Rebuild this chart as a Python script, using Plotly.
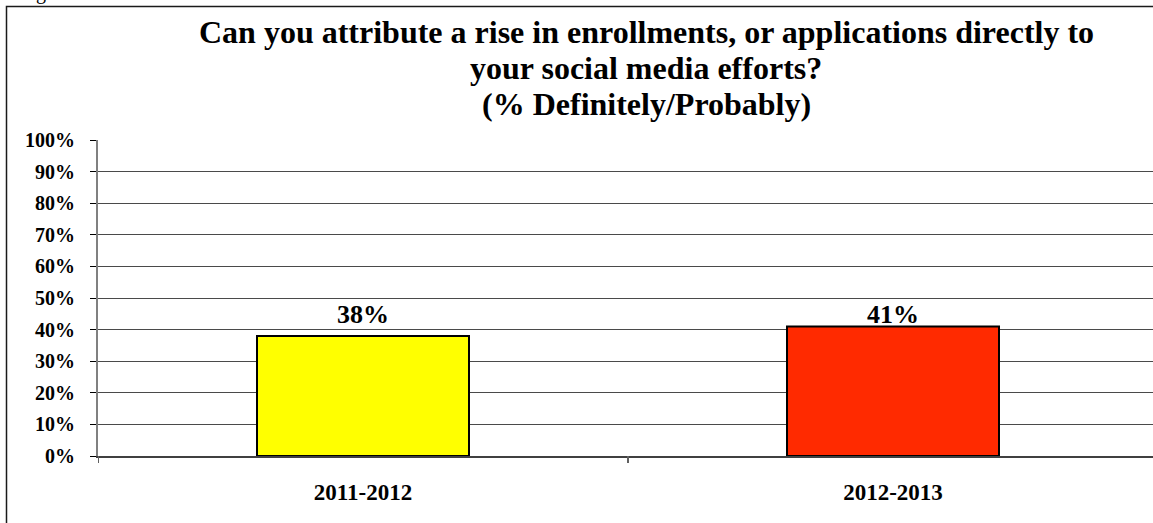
import plotly.graph_objects as go

# Survey results: share answering "Definitely" or "Probably"
periods = ["2011-2012", "2012-2013"]
shares = [0.38, 0.41]
bar_colors = ["#FFFF00", "#FF2A00"]
y_ticks = [0.0, 0.1, 0.2, 0.3, 0.4, 0.5, 0.6, 0.7, 0.8, 0.9, 1.0]
y_tick_text = [f"{round(v * 100)}%" for v in y_ticks]
title_lines = [
    "Can you attribute a rise in enrollments, or applications directly to",
    "your social media efforts?",
    "(% Definitely/Probably)",
]

W, H = 1153, 523
M_L, M_R, M_T, M_B = 98, 0, 140, 67
PLOT_W = W - M_L - M_R
PLOT_H = H - M_T - M_B
CAT_PX = 530  # width of one category slot in pixels

FONT = "Liberation Serif, Times New Roman, DejaVu Serif, serif"


def px_to_paper_x(px):
    return (px - M_L) / PLOT_W


def px_to_paper_y(py):
    return (H - M_B - py) / PLOT_H


x_pos = list(range(len(periods)))
x_range = [-0.5, -0.5 + PLOT_W / CAT_PX]

fig = go.Figure()
fig.add_trace(
    go.Bar(
        x=x_pos,
        y=shares,
        width=0.4,
        marker=dict(color=bar_colors, line=dict(color="#000000", width=2)),
        hoverinfo="skip",
        showlegend=False,
    )
)

annotations = []
# value labels, all set on a common line above the bars
for xi, v in zip(x_pos, shares):
    annotations.append(
        dict(
            x=xi,
            y=px_to_paper_y(323 - 0.337 * 26),
            xref="x",
            yref="paper",
            text=f"<b>{round(v * 100)}%</b>",
            showarrow=False,
            xanchor="center",
            yanchor="middle",
            font=dict(family=FONT, size=26, color="#000000"),
        )
    )

# three-line heading
for i, line in enumerate(title_lines):
    baseline = 43 + 36 * i
    annotations.append(
        dict(
            x=px_to_paper_x(646),
            y=px_to_paper_y(baseline - 0.337 * 32),
            xref="paper",
            yref="paper",
            text=f"<b>{line}</b>",
            showarrow=False,
            xanchor="center",
            yanchor="middle",
            font=dict(family=FONT, size=32, color="#000000"),
        )
    )

# tail of a line of text from above the frame
annotations.append(
    dict(
        x=px_to_paper_x(41),
        y=px_to_paper_y(-0.5 - 0.337 * 20),
        xref="paper",
        yref="paper",
        text="g",
        showarrow=False,
        xanchor="center",
        yanchor="middle",
        font=dict(family=FONT, size=20, color="#000000"),
    )
)

shapes = []
# tick marks at the category boundaries
for b in [xi - 0.5 for xi in x_pos] + [x_pos[-1] + 0.5]:
    shapes.append(
        dict(
            type="line",
            xref="x",
            yref="paper",
            x0=b,
            x1=b,
            y0=0,
            y1=px_to_paper_y(H - M_B + 7),
            line=dict(color="#606060", width=2),
        )
    )

# chart frame (left and top edges)
fx = px_to_paper_x(6.5)
fy = px_to_paper_y(6.5)
shapes.append(
    dict(
        type="path",
        xref="paper",
        yref="paper",
        path=f"M {fx} {px_to_paper_y(H + 5)} L {fx} {fy} L {px_to_paper_x(W + 5)} {fy}",
        line=dict(color="#1a1a1a", width=1.5),
    )
)

fig.update_layout(
    width=W,
    height=H,
    margin=dict(l=M_L, r=M_R, t=M_T, b=M_B, pad=0),
    paper_bgcolor="#FFFFFF",
    plot_bgcolor="#FFFFFF",
    annotations=annotations,
    shapes=shapes,
    bargap=0.6,
    xaxis=dict(
        range=x_range,
        tickmode="array",
        tickvals=x_pos,
        ticktext=[f"<b>{p}</b>" for p in periods],
        ticks="",
        showgrid=False,
        zeroline=False,
        showline=True,
        linecolor="#404040",
        linewidth=2,
        tickfont=dict(family=FONT, size=23, color="#000000"),
        ticklabelstandoff=14,
        fixedrange=True,
    ),
    yaxis=dict(
        range=[0, 1],
        tickmode="array",
        tickvals=y_ticks,
        ticktext=[f"<b>{t}</b>" for t in y_tick_text],
        ticks="outside",
        ticklen=6,
        tickwidth=1,
        tickcolor="#000000",
        showgrid=True,
        gridcolor="#4a4a4a",
        gridwidth=1,
        zeroline=False,
        showline=True,
        linecolor="#808080",
        linewidth=2,
        tickfont=dict(family=FONT, size=20, color="#000000"),
        ticklabelstandoff=11,
        fixedrange=True,
    ),
)

fig.write_html("out.html", config={"displayModeBar": False})
